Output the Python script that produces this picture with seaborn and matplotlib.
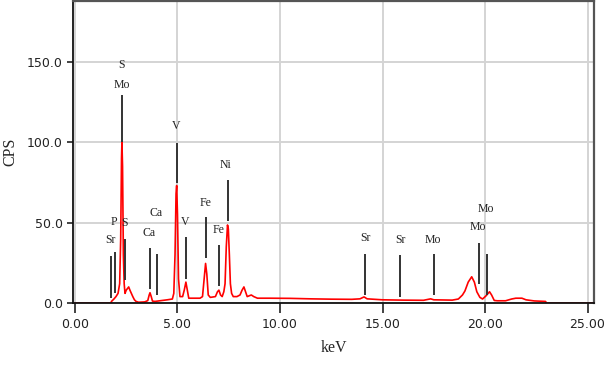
import matplotlib
matplotlib.use('Agg')
import matplotlib.pyplot as plt
import seaborn as sns
import pandas as pd
from matplotlib.ticker import FormatStrFormatter

# EDS spectrum (keV, counts per second)
kev = [0.0, 1.75, 1.78, 1.9, 2.0, 2.1, 2.18, 2.23, 2.27, 2.29, 2.32, 2.36, 2.4, 2.44,
       2.5, 2.56, 2.62, 2.68, 2.75, 2.82, 2.9, 2.98, 3.1, 3.4, 3.55, 3.62, 3.66, 3.72,
       3.78, 3.9, 4.2, 4.5, 4.75, 4.82, 4.88, 4.93, 4.96, 5.0, 5.05, 5.12, 5.25, 5.33,
       5.41, 5.48, 5.55, 5.8, 6.1, 6.22, 6.3, 6.37, 6.43, 6.5, 6.6, 6.85, 6.95, 7.02,
       7.1, 7.18, 7.26, 7.32, 7.38, 7.44, 7.48, 7.53, 7.58, 7.64, 7.72, 7.9, 8.05, 8.15,
       8.24, 8.32, 8.4, 8.5, 8.6, 8.72, 8.9, 9.5, 10.5, 11.5, 12.5, 13.5, 13.9, 14.1,
       14.25, 15.0, 16.0, 17.0, 17.35, 17.5, 18.4, 18.7, 18.9, 19.02, 19.18, 19.35,
       19.48, 19.6, 19.75, 19.88, 20.05, 20.22, 20.32, 20.45, 20.6, 21.0, 21.3, 21.5,
       21.8, 22.0, 22.4, 22.95, 23.0, 25.33]
cps = [0, 0, 1, 2.5, 4, 6, 12, 40, 90, 100, 85, 30, 12, 6,
       8, 9, 10, 8, 6, 4, 2, 1, 0.5, 0.7, 1.5, 5, 6.4, 4,
       1.2, 1, 1.5, 2, 2.5, 6, 30, 68, 73, 55, 15, 4, 4, 8,
       13, 8, 3, 3, 3, 4, 15, 24.6, 18, 5, 3.5, 4, 7, 8,
       5, 4, 7, 12, 35, 48.5, 46, 30, 12, 6, 4, 4, 5, 8,
       10, 7, 4, 4.5, 5, 4, 3, 3, 2.9, 2.6, 2.4, 2.3, 2.6, 3.8,
       2.6, 2.0, 1.8, 1.7, 2.6, 2.0, 1.8, 2.5, 5, 7.5, 13, 16.3,
       13, 7, 3.5, 2.5, 4.5, 7, 5, 1.6, 1.4, 1.4, 2.5, 3,
       3, 2, 1.3, 1, 0, 0]

# element marker lines
marker_kev = [1.76, 1.97, 2.29, 2.44, 3.66, 4.01, 4.96, 5.43, 6.38, 7.04, 7.45,
              14.17, 15.87, 17.5, 19.71, 20.11]
marker_lo = [3.1, 6.2, 100, 14.3, 8.7, 5, 74.5, 14.9, 28, 10.6, 51,
             5, 3.7, 5, 11.8, 5]
marker_hi = [29.2, 31.7, 129, 39.8, 34.2, 30.4, 99.4, 41, 53.4, 36, 76.4,
             30.4, 29.8, 30.4, 37.3, 30.4]

# element labels
label_text = ['Sr', 'P', 'S', 'Mo', 'S', 'Ca', 'Ca', 'V', 'V', 'Fe', 'Fe', 'Ni',
              'Sr', 'Sr', 'Mo', 'Mo', 'Mo']
label_kev = [1.72, 1.92, 2.29, 2.29, 2.42, 3.63, 3.95, 4.93, 5.38, 6.35, 6.98, 7.35,
             14.15, 15.85, 17.45, 19.66, 20.03]
label_cps = [39, 50.5, 147.8, 135.4, 49.5, 43.5, 56, 110, 50.3, 62, 45.3, 85.7,
             40.7, 39, 39, 47.2, 58.4]

df = pd.DataFrame({'keV': kev, 'CPS': cps})

sns.set_style('white')
plt.rcParams['font.family'] = ['DejaVu Sans']

fig = plt.figure(figsize=(6.06, 3.70), dpi=100)
ax = fig.add_axes([0.12, 0.181, 0.8607, 0.816])

ax.grid(True, color='#d4d4d4', linewidth=1.4)
ax.set_axisbelow(True)

sns.lineplot(data=df, x='keV', y='CPS', color='#ff0000', linewidth=1.2, ax=ax)
ax.vlines(marker_kev, marker_lo, marker_hi, color='#333333', linewidth=1.4, zorder=3)

for t, x, y in zip(label_text, label_kev, label_cps):
    ax.text(x, y, t, ha='center', va='center', fontsize=8.5,
            family='Liberation Serif', color='#222222')

ax.set_xlim(-0.11, 25.33)
ax.set_ylim(0, 187.6)
ax.set_xticks([0, 5, 10, 15, 20, 25])
ax.set_yticks([0, 50, 100, 150])
ax.xaxis.set_major_formatter(FormatStrFormatter('%.2f'))
ax.yaxis.set_major_formatter(FormatStrFormatter('%.1f'))
ax.tick_params(axis='x', direction='out', length=7, width=1.2, labelsize=9,
               colors='#222222', bottom=True, pad=4)
ax.tick_params(axis='y', direction='out', length=4, width=1.2, labelsize=9,
               colors='#222222', left=True, pad=3)

ax.set_xlabel('keV', family='Liberation Serif', fontsize=11.5, labelpad=6)
ax.set_ylabel('CPS', family='Liberation Serif', fontsize=11.5)
ax.yaxis.set_label_coords(-0.104, 0.5)

for side in ['left', 'bottom']:
    ax.spines[side].set_color('#111111')
    ax.spines[side].set_linewidth(1.3)
for side in ['top', 'right']:
    ax.spines[side].set_color('#555555')
    ax.spines[side].set_linewidth(1.6)

fig.savefig('out.png', dpi=100)
